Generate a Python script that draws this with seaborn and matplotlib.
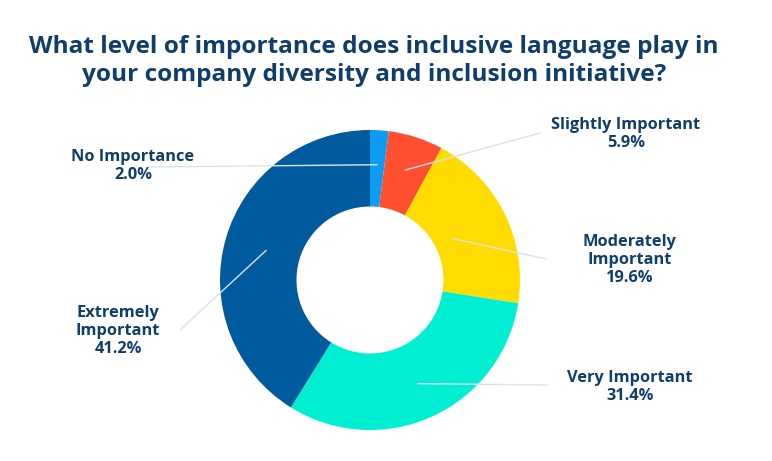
import numpy as np
import seaborn as sns
import matplotlib.pyplot as plt

# Survey answers, clockwise from 12 o'clock
categories = ["No Importance", "Slightly Important", "Moderately\nImportant",
              "Very Important", "Extremely\nImportant"]
shares = [2.0, 5.9, 19.6, 31.4, 41.2]
colors = ["#0E9CF3", "#FF4F30", "#FFDC00", "#00EFD2", "#005B9E"]

# where each label sits (pixel coords, y from top) and where its leader line ends
label_pos = [(133, 166), (626, 134), (630, 260), (630, 387), (118, 331)]
line_end = [(150, 167), (540, 133), (546, 259), (547, 385), (180, 330)]
anchor_r = [0.77, 0.77, 0.62, 0.76, 0.72]

W, H = 772, 461
navy = "#0F3E6C"

sns.set_theme(style="white")
plt.rcParams['font.family'] = ['Open Sans', 'DejaVu Sans']

fig = plt.figure(figsize=(W / 100, H / 100), dpi=100)
ax = fig.add_axes([0, 0, 1, 1])

cx, cy, R = 370, H - 280, 150
wedges, _ = ax.pie(shares, colors=colors, startangle=90, counterclock=False,
                   center=(cx, cy), radius=R, frame=True,
                   wedgeprops=dict(width=R * 0.51, linewidth=0))
ax.set_xlim(0, W)
ax.set_ylim(0, H)
ax.set_aspect('equal')
ax.axis('off')

for w, lab, val, (lx, ly), (ex, ey), r in zip(wedges, categories, shares,
                                               label_pos, line_end, anchor_r):
    ang = np.deg2rad((w.theta1 + w.theta2) / 2)
    ax_x = cx + r * R * np.cos(ang)
    ax_y = cy + r * R * np.sin(ang)
    ax.plot([ax_x, ex], [ax_y, H - ey], color="#DDE1E6", lw=1.0, zorder=3)
    ax.text(lx, H - ly, f"{lab}\n{val:.1f}%", ha='center', va='center',
            fontsize=11.8, fontweight='bold', color=navy, linespacing=1.2)

fig.text(374 / W, 1 - 61 / H,
         "What level of importance does inclusive language play in\n"
         "your company diversity and inclusion initiative?",
         ha='center', va='center', fontsize=17.6, fontweight='bold',
         color=navy, linespacing=1.2)

fig.savefig("out.png", dpi=100)
